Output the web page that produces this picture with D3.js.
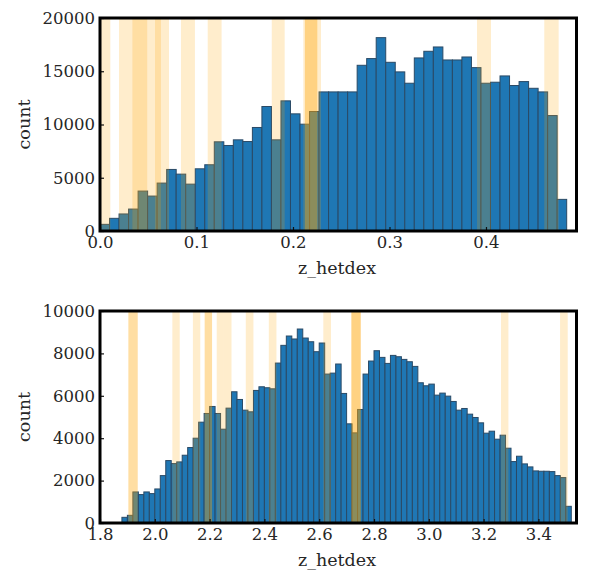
<!DOCTYPE html>
<html>
<head>
<meta charset="utf-8">
<script src="https://cdn.jsdelivr.net/npm/d3@7"></script>
<style>
  body { margin: 0; background: #fff; }
  text { font-family: "DejaVu Serif", serif; fill: #262626; }
</style>
</head>
<body>
<script>
'use strict';

// low z panel: 49 bins starting at 0
const lowStart = 0;
const lowBinWidth = 0.00987;
const lowCounts = [625, 1190, 1600, 2060, 3750, 3280, 4500, 5780, 5340, 4400,
  5840, 6220, 8375, 8030, 8560, 8400, 9720, 11690, 8560, 12220,
  11000, 10030, 11220, 13060, 13060, 13060, 13060, 15560, 16190, 18155,
  15840, 14940, 13875, 16250, 16875, 17280, 16060, 16060, 16340, 15340,
  13875, 13970, 14560, 13660, 14030, 13400, 13060, 10840, 2970];
const lowBands = [[-0.003, 0.0107], [0.0197, 0.0335], [0.0335, 0.049], [0.0335, 0.049],
  [0.049, 0.0632], [0.057, 0.0715], [0.0839, 0.0984], [0.1116, 0.126], [0.178, 0.1914],
  [0.2107, 0.2252], [0.2124, 0.229], [0.2124, 0.2252], [0.3907, 0.4052], [0.4604, 0.4753]];
const lowXTicks = [0, 0.1, 0.2, 0.3, 0.4];
const lowYTicks = [0, 5000, 10000, 15000, 20000];

// high z panel: 82 bins of 0.02
const highStart = 1.88;
const highBinWidth = 0.02;
const highCounts = [268, 362, 1465, 1340, 1465, 1386, 1606, 2236, 2945, 2803,
  2882, 3197, 3560, 4000, 4756, 5166, 5497, 5166, 4425, 5418,
  6190, 5827, 5323, 5245, 6253, 6426, 6380, 6330, 7544, 8380,
  8820, 8680, 9150, 8725, 8550, 8080, 8490, 7025, 7070, 7500,
  6111, 4678, 4252, 5355, 7025, 7640, 8127, 7812, 7528, 7906,
  7843, 7717, 7607, 7387, 6615, 6473, 6552, 6032, 6127, 5985,
  5733, 5323, 5402, 5134, 4977, 4725, 4237, 4331, 3953, 4142,
  3528, 2898, 3150, 2788, 2646, 2457, 2441, 2441, 2425, 2236,
  2142, 787];
const highBands = [[1.9036, 1.9376], [1.9036, 1.9376], [2.064, 2.091], [2.139, 2.166],
  [2.182, 2.209], [2.182, 2.209], [2.226, 2.2525], [2.2525, 2.28], [2.332, 2.36],
  [2.416, 2.444], [2.615, 2.643], [2.7175, 2.7515], [2.7175, 2.7515], [2.7175, 2.7515],
  [3.2635, 3.2905], [3.479, 3.507]];
const highXTicks = [1.8, 2.0, 2.2, 2.4, 2.6, 2.8, 3.0, 3.2, 3.4];
const highYTicks = [0, 2000, 4000, 6000, 8000, 10000];

const width = 590;
const height = 585;
const fontSize = 16.5;

const svg = d3.select('body')
  .append('svg')
  .attr('width', width)
  .attr('height', height);

function drawPanel(opts) {
  const xScale = d3.scaleLinear().domain(opts.xDomain).range([100, 576.5]);
  const yScale = d3.scaleLinear().domain(opts.yDomain).range([opts.bottom, opts.top]);
  const clipId = 'clip' + opts.top;

  svg.append('clipPath')
    .attr('id', clipId)
    .append('rect')
    .attr('x', 100)
    .attr('y', opts.top)
    .attr('width', 476.5)
    .attr('height', opts.bottom - opts.top);

  const g = svg.append('g').attr('clip-path', `url(#${clipId})`);

  g.selectAll('rect.bar')
    .data(opts.counts)
    .enter()
    .append('rect')
    .attr('class', 'bar')
    .attr('x', (d, i) => xScale(opts.start + i * opts.binWidth))
    .attr('y', (d) => yScale(d))
    .attr('width', xScale(opts.start + opts.binWidth) - xScale(opts.start))
    .attr('height', (d) => opts.bottom - yScale(d))
    .attr('fill', '#1f77b4')
    .attr('stroke', '#2a4a66')
    .attr('stroke-width', 1);

  g.selectAll('rect.band')
    .data(opts.bands)
    .enter()
    .append('rect')
    .attr('class', 'band')
    .attr('x', (d) => xScale(d[0]))
    .attr('y', opts.top)
    .attr('width', (d) => xScale(d[1]) - xScale(d[0]))
    .attr('height', opts.bottom - opts.top)
    .attr('fill', 'orange')
    .attr('opacity', 0.2);

  const xAxis = d3.axisBottom(xScale)
    .tickValues(opts.xTicks)
    .tickFormat(d3.format('.1f'))
    .tickSizeInner(-4)
    .tickSizeOuter(0)
    .tickPadding(5);

  const yAxis = d3.axisLeft(yScale)
    .tickValues(opts.yTicks)
    .tickFormat(d3.format('d'))
    .tickSizeInner(-4)
    .tickSizeOuter(0)
    .tickPadding(5);

  const xG = svg.append('g')
    .attr('transform', `translate(0, ${opts.bottom})`)
    .call(xAxis);
  const yG = svg.append('g')
    .attr('transform', 'translate(100, 0)')
    .call(yAxis);

  [xG, yG].forEach((a) => {
    a.select('.domain').remove();
    a.selectAll('text').attr('font-size', fontSize).attr('font-family', null);
    a.selectAll('line').attr('stroke', '#111').attr('stroke-width', 1.2);
  });

  svg.append('rect')
    .attr('x', 100)
    .attr('y', opts.top)
    .attr('width', 476.5)
    .attr('height', opts.bottom - opts.top)
    .attr('fill', 'none')
    .attr('stroke', '#000')
    .attr('stroke-width', 3);

  svg.append('text')
    .attr('x', 337)
    .attr('y', opts.bottom + 43)
    .attr('text-anchor', 'middle')
    .attr('font-size', fontSize + 1)
    .text('z_hetdex');

  svg.append('text')
    .attr('transform', `translate(30, ${(opts.top + opts.bottom) / 2}) rotate(-90)`)
    .attr('text-anchor', 'middle')
    .attr('font-size', fontSize + 1)
    .text('count');
}

drawPanel({
  top: 18, bottom: 231,
  xDomain: [0, 0.4938], yDomain: [0, 20000],
  start: lowStart, binWidth: lowBinWidth, counts: lowCounts, bands: lowBands,
  xTicks: lowXTicks, yTicks: lowYTicks
});

drawPanel({
  top: 311, bottom: 523,
  xDomain: [1.8, 3.539], yDomain: [0, 10000],
  start: highStart, binWidth: highBinWidth, counts: highCounts, bands: highBands,
  xTicks: highXTicks, yTicks: highYTicks
});
</script>
</body>
</html>
